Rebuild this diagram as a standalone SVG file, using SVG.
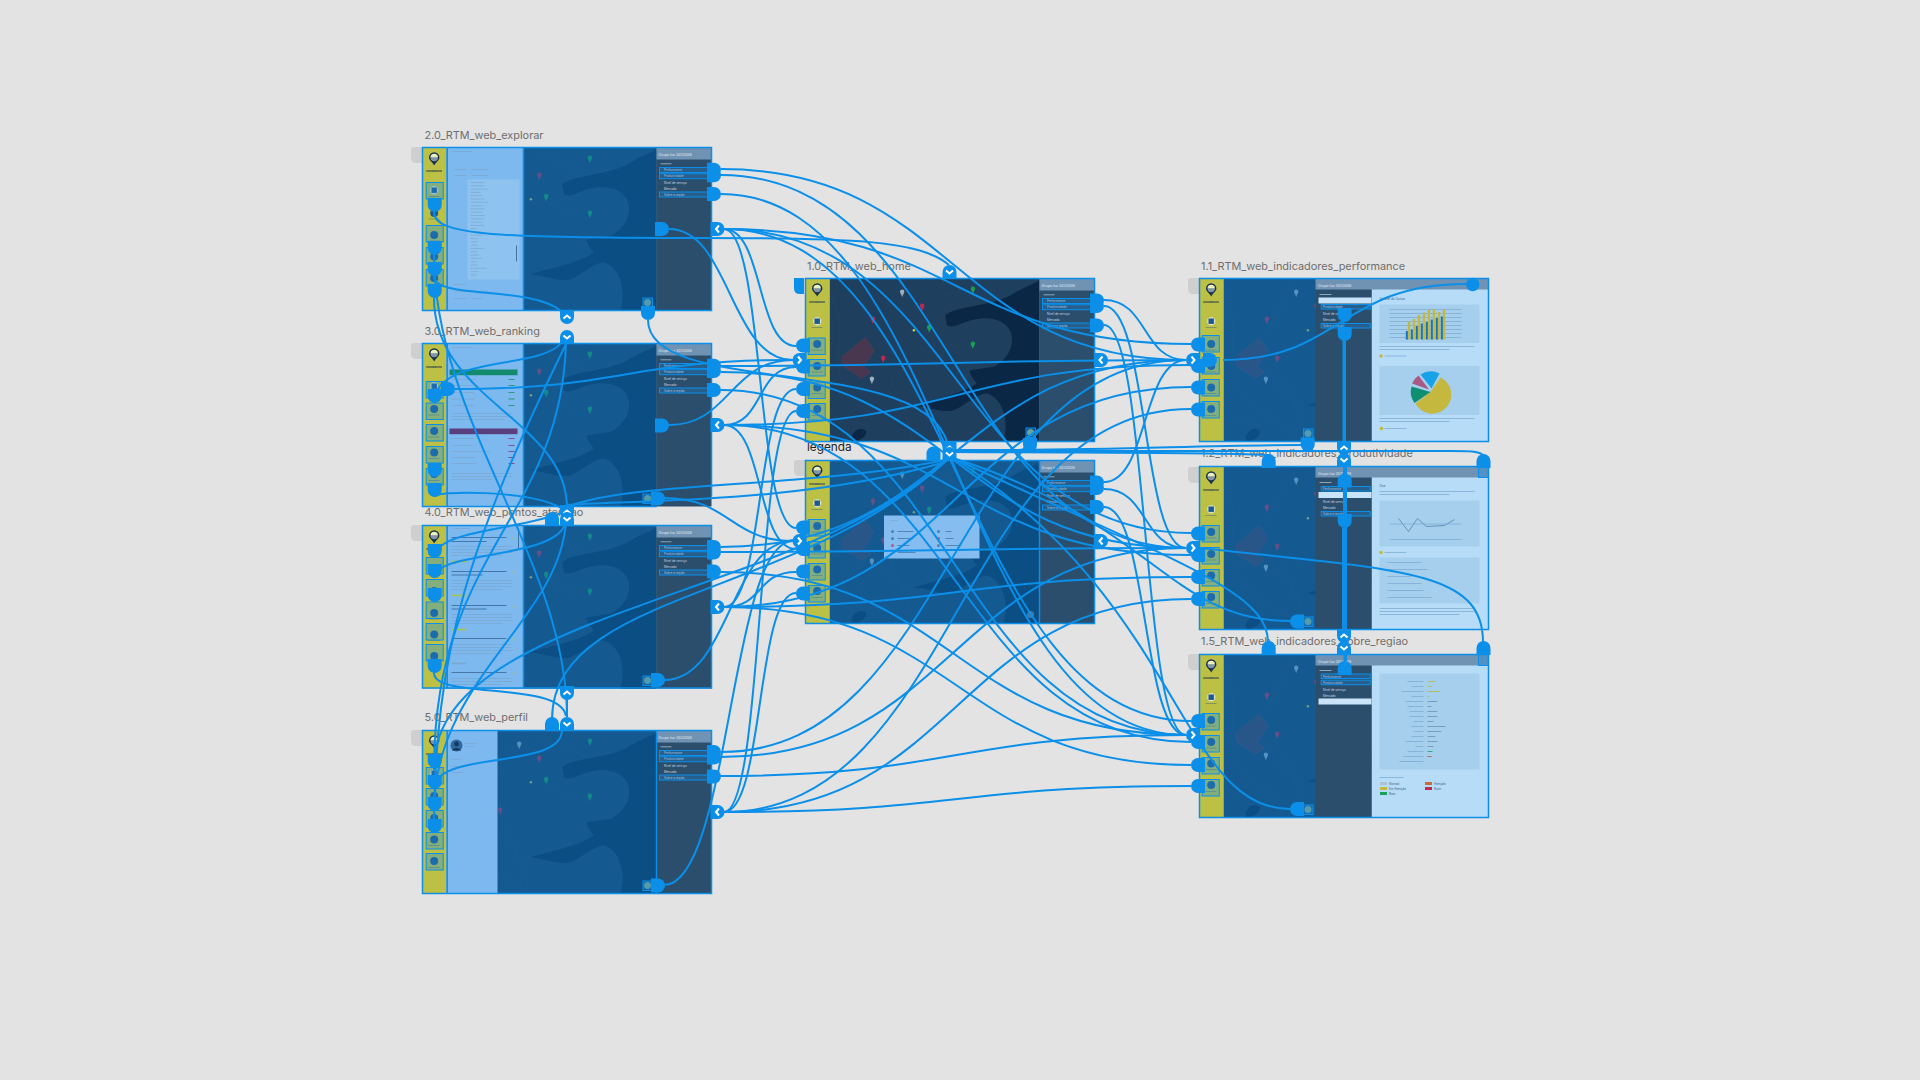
<svg xmlns="http://www.w3.org/2000/svg" width="1920" height="1080" viewBox="0 0 1920 1080">
<style>
text{font-family:"Inter","Liberation Sans",sans-serif}
.lbl{font-size:10.9px;fill:#6e6e6e}
.c path{fill:none;stroke:#0b8fe9;stroke-width:2}
.t path,.t use,.t circle{fill:#0b8fe9}
.ch{fill:none;stroke:#fff;stroke-width:2}
.hot{fill:#1e90e8;fill-opacity:.35;stroke:#0b8fe9;stroke-width:1}
.hm{fill:#1e90e8;fill-opacity:.25;stroke:#0b8fe9;stroke-width:1}
.out{fill:none;stroke:#0b8fe9;stroke-width:1.5}
.ov{fill:#0a75c4;fill-opacity:.5}
.lp{fill:#7db9ee}
.m{font-size:3px;fill:#c9d8e5}
.mt{font-size:3.6px;fill:#e2ebf3}
.d{font-size:3px;fill:#3c5f80}
.r2{fill:none;stroke:#7aa6cf;stroke-width:.7}
.road{fill:none;stroke:#fff;stroke-opacity:.13;stroke-width:.5}
.gt{fill:#cfcfcf}
.area{fill:#a6cfee}
</style>
<defs>
<path id="pin" d="M0 3C-1-.2-2.2-1-2.2-2.6A2.2 2.2 0 0 1 2.2-2.6C2.2-1 1-.2 0 3Z"/>
<path id="tR" d="M-7-7H0A7 7 0 0 1 0 7H-7Z"/>
<path id="tL" d="M7-7H0A7 7 0 0 0 0 7H7Z"/>
<path id="tT" d="M-7 7V0A7 7 0 0 1 7 0V7Z"/>
<path id="tB" d="M-7-7V0A7 7 0 0 0 7 0V-7Z"/>
<g id="map">
<rect x="24" width="210" height="163" fill="#1f3f5f"/>
<g transform="translate(-25.3 -28.3) scale(.3333)">
<path fill="#0a2745" d="M495 195C530 165 640 170 700 130C730 110 770 100 778 88V575H670C690 500 660 440 620 430C590 430 550 470 520 480C490 490 450 470 400 465C450 450 550 430 590 400C580 385 565 370 570 360L640 350C660 340 700 310 695 260C690 220 650 200 600 205C550 210 520 240 500 225Z"/>
<path fill="#0a2745" d="M215 560C220 535 250 530 258 545C255 565 235 570 225 575H215Z"/>
<path fill="#48374f" stroke="#6a4258" d="M185 320L255 262L282 302L250 350L272 365L245 385L185 345Z"/>
<path class="road" stroke-width="1.500" d="M150 130C200 200 160 330 180 380C210 480 300 500 390 570M330 380C350 450 390 500 395 575M370 90C340 140 290 210 280 262M430 100L560 160M450 250L540 290M740 180L770 215M170 500L270 530M300 395L380 480"/>
<g transform="scale(3)">
<use href="#pin" x="122" y="44" fill="#9fb0bd"/><use href="#pin" x="142" y="58" fill="#c2284a"/><use href="#pin" x="92.700" y="71" fill="#c2284a"/><use href="#pin" x="192.700" y="41" fill="#18a050"/><use href="#pin" x="149" y="79.300" fill="#18a050"/><use href="#pin" x="192.700" y="96" fill="#18a050"/><use href="#pin" x="103" y="110" fill="#c2284a"/><use href="#pin" x="91.700" y="131" fill="#9fb0bd"/><circle cx="133.700" cy="80" r="1.200" fill="#d9d040"/>
</g>
</g>
</g>
<g id="side">
<rect width="24" height="163" fill="#bcc044"/>
<path fill="#17324d" d="M11.700 18C9.500 14 6.500 12.800 6.500 10A5.200 5.200 0 0 1 16.900 10C16.900 12.800 13.900 14 11.700 18Z"/>
<path fill="#eaf0c0" d="M8 10A3.700 3.700 0 0 1 15.400 10Z"/><path fill="#dfe8f0" d="M8 10A3.700 3.700 0 0 0 15.400 10Z" opacity=".55"/>
<path stroke="#17324d" stroke-width="1.600" stroke-dasharray=".7 .4" d="M4 23.500H19.500"/>
<circle cx="11.700" cy="42.700" r="4.200" fill="#dfe8f0" opacity=".75"/>
<g fill="#1c5a8c"><rect x="9" y="40" width="5.400" height="5.400"/><circle cx="11.700" cy="65.500" r="4"/><circle cx="11.700" cy="87.500" r="4"/><circle cx="11.700" cy="109" r="4"/><circle cx="11.700" cy="130.500" r="4"/></g>
<path stroke="#6f8d6a" stroke-width=".8" d="M6 49H17M6 71.500H17M6 93.500H17M6 115H17M6 137H17"/>
</g>
<g id="panel">
<rect x="234" width="55" height="163" fill="#2a4e6c"/><rect x="234" width="55" height="12" fill="#7093b3"/>
<text class="mt" x="236" y="8.500">Grupo luz 3033008</text>
<path stroke="#a7bccd" stroke-width=".8" d="M238 16.300H249"/>
<text class="m" x="241.500" y="23.500">Performance</text><text class="m" x="241.500" y="29.800">Produtividade</text><text class="m" x="241.500" y="36">Nível de serviço</text><text class="m" x="241.500" y="42.300">Mercado</text><text class="m" x="241.500" y="48.500">Sobre a região</text>
<rect class="hm" x="237" y="20" width="49" height="5"/><rect class="hm" x="237" y="26.200" width="49" height="5"/><rect class="hm" x="237" y="44.500" width="49" height="5"/>
</g>
<g id="panelR">
<rect x="172" width="117" height="163" fill="#b7dcf8"/>
<rect x="116" width="56" height="163" fill="#2a4e6c"/><rect x="116" width="173" height="11" fill="#7093b3"/>
<text class="mt" x="118.500" y="8">Grupo luz 3033008</text>
<path stroke="#a7bccd" stroke-width=".8" d="M120 16H132"/>
<text class="m" x="123.500" y="23.500">Performance</text><text class="m" x="123.500" y="29.800">Produtividade</text><text class="m" x="123.500" y="36">Nível de serviço</text><text class="m" x="123.500" y="42.300">Mercado</text><text class="m" x="123.500" y="48.500">Sobre a região</text>
</g>
<g id="arrU"><path class="ch" d="M-3.500 1.500L0-1.500L3.500 1.500"/></g>
<g id="arrD"><path class="ch" d="M-3.500-1.500L0 1.500L3.500-1.500"/></g>
<g id="arrL"><path class="ch" d="M1.500-3.500L-1.500 0L1.500 3.500"/></g>
<g id="arrR"><path class="ch" d="M-1.500-3.500L1.500 0L-1.500 3.500"/></g>
<g id="help"><circle cx="225" cy="155" r="3.500" fill="#6fa38e"/><rect class="hot" x="220.500" y="150.500" width="9.500" height="9.500"/></g>
<g id="helpR"><circle cx="108.500" cy="155" r="3.500" fill="#6fa38e"/><rect class="hot" x="104" y="150.500" width="9.500" height="9.500"/></g>
</defs>
<rect width="1920" height="1080" fill="#e3e3e3"/>

<text class="lbl" x="424.500" y="139">2.0_RTM_web_explorar</text>
<text class="lbl" x="424.500" y="335">3.0_RTM_web_ranking</text>
<text class="lbl" x="424.500" y="516">4.0_RTM_web_pontos_atencao</text>
<text class="lbl" x="424.500" y="721">5.0_RTM_web_perfil</text>
<text class="lbl" x="807" y="270">1.0_RTM_web_home</text>
<text class="lbl" x="807" y="451" style="fill:#222;font-size:11.800px">legenda</text>
<text class="lbl" x="1201" y="270">1.1_RTM_web_indicadores_performance</text>
<text class="lbl" x="1201" y="457">1.2_RTM_web_indicadores_produtividade</text>
<text class="lbl" x="1201" y="645">1.5_RTM_web_indicadores_sobre_regiao</text>

<path class="gt" d="M423 147H414Q411 147 411 150V158Q411 163 416 163H423Z"/>
<path class="gt" d="M423 343H414Q411 343 411 346V354Q411 359 416 359H423Z"/>
<path class="gt" d="M423 525H414Q411 525 411 528V536Q411 541 416 541H423Z"/>
<path class="gt" d="M423 730H414Q411 730 411 733V741Q411 746 416 746H423Z"/>
<path class="gt" d="M806 460H797Q794 460 794 463V471Q794 476 799 476H806Z"/>
<path class="gt" d="M1200 278H1191Q1188 278 1188 281V289Q1188 294 1193 294H1200Z"/>
<path class="gt" d="M1200 467H1191Q1188 467 1188 470V478Q1188 483 1193 483H1200Z"/>
<path class="gt" d="M1200 654H1191Q1188 654 1188 657V665Q1188 670 1193 670H1200Z"/>

<g id="node-2-0" transform="translate(422.500 147.500)">
<use href="#map"/><rect class="ov" x="24" width="210" height="163"/><use href="#side"/><use href="#panel"/>
<rect class="lp" x="24" width="77" height="163"/>
<path class="r2" d="M30 4H50M32 22H44M49 22H66M32 28H44M49 28H66M32 137H44M32 144H44M49 144H66M32 151H44M49 151H60"/>
<rect x="45" y="32" width="52" height="100" fill="#8fc3ef"/>
<path class="r2" d="M48 35H62M48 38.300H62M48 41.600H66M48 44.900H58M48 48.200H60M48 51.500H62M48 54.800H66M48 58.100H60M48 61.400H62M48 64.700H60M48 68H62M48 71.300H62M48 74.600H60M48 77.900H62M48 81.200H54M48 84.500H58M48 87.800H60M48 91.100H56M48 94.400H55M48 97.700H55M48 101H62M48 104.300H55M48 107.600H56M48 110.900H60M48 114.200H54M48 117.500H55M48 120.800H64M48 124.100H56M48 127.400H54"/>
<path stroke="#3e74a6" stroke-width="1" d="M94 98V114"/>
<path class="out" d="M24.700 0V163M101 0V163"/>
<rect class="hot" x="3.700" y="35" width="17" height="16.500"/><rect class="hot" x="3.700" y="78" width="17" height="16.500"/><rect class="hot" x="3.700" y="100" width="17" height="16.500"/><rect class="hot" x="3.700" y="122" width="17" height="16.500"/>
<use href="#help"/>
<rect class="out" width="289" height="163"/>
</g>
<g id="node-3-0" transform="translate(422.500 343.500)">
<use href="#map"/><rect class="ov" x="24" width="210" height="163"/><use href="#side"/><use href="#panel"/>
<rect class="lp" x="24" width="77" height="163"/>
<rect x="27" y="26" width="68" height="5.700" fill="#128a6e"/><rect x="27" y="85" width="68" height="5.700" fill="#5a3f7e"/>
<path class="r2" d="M30 4H50M29 36H54M29 42H54M29 49H52M29 55.500H52M29 62H52M29 70H90M29 73H90M29 76H82M29 95H52M29 102H50M29 108H68M29 114H52M29 120H54M29 130H90M29 133H90M29 136H70"/>
<path stroke="#2b9a78" stroke-width="1.200" d="M86 36H92M86 42H92M86 49H92M86 55.500H92M86 62H92"/>
<path stroke="#8a4a90" stroke-width="1.200" d="M86 95H92M86 102H92M86 108H92M86 114H92M86 120H92"/>
<path class="out" d="M24.700 0V163M101 0V163"/>
<rect class="hot" x="3.700" y="38" width="17" height="16.500"/><rect class="hot" x="3.700" y="59.500" width="17" height="16.500"/><rect class="hot" x="3.700" y="81" width="17" height="16.500"/><rect class="hot" x="3.700" y="103" width="17" height="16.500"/><rect class="hot" x="3.700" y="125" width="17" height="16.500"/>
<use href="#help"/>
<path class="out" d="M234 163H0V0H289V153"/>
</g>
<g id="node-4-0" transform="translate(422.500 525.500)">
<use href="#map"/><rect class="ov" x="24" width="210" height="163"/><use href="#side"/><use href="#panel"/>
<rect class="lp" x="24" width="77" height="163"/>
<path class="r2" d="M30 3H48"/>
<path stroke="#3e6f9f" stroke-width=".9" d="M29 12H84M29 16H64M29 46H84M29 49.500H60M29 80H84M29 83.500H64M29 113H84M29 147H84"/>
<path class="r2" d="M29 21H90M29 24H90M29 27H90M29 30H80M29 55H90M29 58H90M29 61H90M29 64H80M29 89H90M29 92H90M29 95H90M29 98H80M29 119H90M29 122H90M29 125H90M29 128H80M29 153H90M29 156H90M29 159H80"/>
<path stroke="#aec446" stroke-width="1.600" d="M29 36H44M29 70H44M29 104H44"/><path stroke="#7aa6cf" stroke-width="1.600" d="M29 138H44"/>
<path stroke="#aec446" stroke-width="1.600" d="M91 12V14M91 46V48M91 80V82M91 113V115M91 147V149"/>
<path stroke="#3e74a6" stroke-width="1" d="M96 3V23"/>
<path class="out" d="M24.700 0V163M101 0V163"/>
<rect class="hot" x="3.700" y="32" width="17" height="16.500"/><rect class="hot" x="3.700" y="54" width="17" height="16.500"/><rect class="hot" x="3.700" y="76.500" width="17" height="16.500"/><rect class="hot" x="3.700" y="98" width="17" height="16.500"/><rect class="hot" x="3.700" y="119" width="17" height="16.500"/>
<use href="#help"/>
<path class="out" d="M234 162.500H0V0H289V162.500H234"/>
</g>
<g id="node-5-0" transform="translate(422.500 730.500)">
<use href="#map"/><rect class="ov" x="24" width="210" height="163"/><use href="#side"/><use href="#panel"/>
<rect class="lp" x="24" width="51" height="163"/>
<circle cx="34" cy="15" r="6" fill="#2f6a9f"/><circle cx="34" cy="13.500" r="2.400" fill="#123a60"/><path fill="#123a60" d="M29.500 20C30 16.500 38 16.500 38.500 20Z"/>
<path class="r2" d="M42 13H54M42 16H52M29 29H38M29 36H36M29 42H42"/>
<path class="out" d="M24.700 0V163"/>
<rect class="hot" x="3.700" y="37" width="17" height="16.500"/><rect class="hot" x="3.700" y="58" width="17" height="16.500"/><rect class="hot" x="3.700" y="80" width="17" height="16.500"/><rect class="hot" x="3.700" y="102" width="17" height="16.500"/><rect class="hot" x="3.700" y="123" width="17" height="16.500"/>
<use href="#help"/>
<rect class="out" width="289" height="163"/><path class="out" d="M234 0V163"/>
</g>
<g id="node-1-0" transform="translate(805.500 278.500)">
<use href="#map"/><use href="#side"/><use href="#panel"/>
<rect class="hot" x="2.700" y="59.500" width="17" height="16.500"/><rect class="hot" x="2.700" y="81" width="17" height="16.500"/><rect class="hot" x="2.700" y="103.500" width="17" height="16.500"/><rect class="hot" x="2.700" y="125" width="17" height="16.500"/>
<circle cx="225" cy="154" r="3.500" fill="#8fb07a"/><rect class="hot" x="220.500" y="149.500" width="9.500" height="9.500"/>
<rect class="out" width="289" height="163"/>
</g>
<g id="node-legenda" transform="translate(805.500 460.500)">
<use href="#map"/><rect class="ov" x="24" width="210" height="163"/><use href="#side"/><use href="#panel"/>
<circle cx="225" cy="154" r="3.500" fill="#3f7cab"/>
<rect x="78.500" y="55" width="95.500" height="43" fill="#86bdf0"/>
<path class="r2" d="M84 60H92"/>
<path stroke="#4d80b3" stroke-width=".9" d="M92 71H108M92 78H108M92 85H104M92 92H110M140 71H146M140 78H148M140 85H156"/>
<g fill="#4d80b3"><circle cx="87" cy="71" r="1.500"/><circle cx="87" cy="78" r="1.500"/><circle cx="87" cy="85" r="1.500" fill="#a35d90"/><circle cx="133" cy="71" r="1.500"/><circle cx="133" cy="78" r="1.500" fill="#a35d90"/><circle cx="133" cy="85" r="1.500"/></g>
<rect class="hot" x="2.700" y="59" width="17" height="16.500"/><rect class="hot" x="2.700" y="81" width="17" height="16.500"/><rect class="hot" x="2.700" y="103" width="17" height="16.500"/><rect class="hot" x="2.700" y="125" width="17" height="16.500"/>
<rect class="out" width="289" height="163"/><path class="out" d="M234 0V163"/>
</g>
<g id="node-1-1" transform="translate(1199.500 278.500)">
<use href="#map"/><rect class="ov" x="24" width="210" height="163"/><use href="#side"/><use href="#panelR"/>
<rect x="119" y="19" width="53" height="6" fill="#c9e3f8"/>
<text class="d" x="180" y="21">Volume do Coruja</text>
<rect class="area" x="180" y="26" width="100" height="38.500"/>
<path class="r2" d="M190 31H262M190 35H262M190 39H262M190 43H262M190 47H262M190 51H262M190 55H262M190 59H262"/>
<path stroke="#1474c8" stroke-width="2.400" d="M207.500 61V52.500M212.500 61V51M217.500 61V47.500M222.500 61V45M227.500 61V43.500M232.500 61V41M237.500 61V39.500M242.500 61V38"/>
<path stroke="#c4b83e" stroke-width="2.400" d="M209.500 61V43M214.500 61V40.500M219.500 61V36.500M224.500 61V34M229.500 61V31.500M234.500 61V30.500M239.500 61V33.500M244.500 61V31"/>
<path class="r2" d="M180 68H275M180 71H250"/><circle cx="181.500" cy="77.500" r="1.800" fill="#c4b83e"/><path class="r2" d="M185 77.500H207"/>
<rect class="area" x="180" y="87.500" width="100" height="49"/>
<path fill="#c4b83e" d="M231 113.500L241 99A19 19 0 1 1 216 125Z"/>
<path fill="#108e72" d="M231 113.500L215 124.500A19 19 0 0 1 212 108Z"/>
<path fill="#a85a85" d="M229.500 111L212.500 105A19 19 0 0 1 219 97Z"/>
<path fill="#17a2e8" d="M232 110L221 96A19 19 0 0 1 240 95Z"/>
<path class="r2" d="M180 140H275M180 143H250"/><circle cx="182" cy="150" r="1.800" fill="#c4b83e"/><path class="r2" d="M185 150H207"/>
<rect class="hm" x="121.700" y="26" width="49" height="4.500"/><rect class="hm" x="121.700" y="45" width="49" height="4.500"/>
<rect class="hot" x="2.700" y="57" width="17" height="16.500"/><rect class="hot" x="2.700" y="79" width="17" height="16.500"/><rect class="hot" x="2.700" y="101" width="17" height="16.500"/><rect class="hot" x="2.700" y="123" width="17" height="16.500"/>
<use href="#helpR"/>
<rect class="out" width="289" height="163"/>
</g>
<g id="node-1-2" transform="translate(1199.500 466.500)">
<use href="#map"/><rect class="ov" x="24" width="210" height="163"/><use href="#side"/><use href="#panelR"/>
<rect x="119" y="25.500" width="53" height="6" fill="#c9e3f8"/>
<text class="d" x="180" y="20">Gira</text>
<path class="r2" d="M180 25H275M180 28H250"/>
<rect class="area" x="180" y="34" width="100" height="46"/>
<path fill="none" stroke="#3d6a94" stroke-width=".6" d="M199 52L209 65L218 52L227 60L236 59.500L245 59L255 53"/><path class="r2" d="M190 57.500H262M190 73H262"/>
<circle cx="181.500" cy="86" r="1.800" fill="#c4b83e"/><path class="r2" d="M185 86H207"/>
<rect class="area" x="180" y="91" width="100" height="46"/>
<path class="r2" d="M188 96H222M188 103H228M188 110H212M188 117H222M188 124H224M188 131H232M180 142H275M180 145H275M180 148H260"/>
<rect class="hm" x="121.700" y="20" width="49" height="4.500"/><rect class="hm" x="121.700" y="45" width="49" height="4.500"/>
<rect fill="#1e90e8" fill-opacity=".35" stroke="#0b8fe9" x="279" y="0" width="10" height="11"/>
<rect class="hot" x="2.700" y="59" width="17" height="16.500"/><rect class="hot" x="2.700" y="81" width="17" height="16.500"/><rect class="hot" x="2.700" y="103" width="17" height="16.500"/><rect class="hot" x="2.700" y="125" width="17" height="16.500"/>
<use href="#helpR"/>
<rect class="out" width="289" height="163"/>
</g>
<g id="node-1-5" transform="translate(1199.500 654.500)">
<use href="#map"/><rect class="ov" x="24" width="210" height="163"/><use href="#side"/><use href="#panelR"/>
<rect x="119" y="44" width="53" height="6" fill="#c9e3f8"/>
<rect class="area" x="180" y="19" width="100" height="96"/>
<path class="r2" d="M208 27H224M212 32H224M202 37H224M212 42H224M206 47H224M208 52H224M210 57H224M210 62H224M214 67H224M212 72H224M214 77H224M212 82H224M206 87H224M216 92H224M208 97H224M204 102H224M200 107H224"/>
<path stroke="#6d92b0" stroke-width=".8" d="M228 47H238M228 52H232M228 57H238M228 62H238M228 67H234M228 72H246M228 77H242M228 82H236M228 87H238M228 92H234M228 102H232"/>
<path stroke="#b8b83e" stroke-width=".8" d="M228 27H236M228 32H232M228 37H240M228 42H230"/><path stroke="#1aa05a" stroke-width=".8" d="M228 97H233"/><path stroke="#c96a3a" stroke-width=".8" d="M228 102H232"/>
<path class="r2" d="M180 123H204"/>
<rect x="180.500" y="127.500" width="7" height="3" fill="#a9c3d5"/><rect x="180.500" y="132.500" width="7" height="3" fill="#c4b83e"/><rect x="180.500" y="137.500" width="7" height="3" fill="#1aa05a"/><rect x="225.500" y="127.500" width="7" height="3" fill="#c96a3a"/><rect x="225.500" y="132.500" width="7" height="3" fill="#c2284a"/>
<text class="d" x="189.500" y="130.500">Normal</text><text class="d" x="189.500" y="135.500">Em Atenção</text><text class="d" x="189.500" y="140.500">Bom</text><text class="d" x="234.500" y="130.500">Atenção</text><text class="d" x="234.500" y="135.500">Ruim</text>
<rect class="hm" x="121.700" y="19.500" width="49" height="4.500"/><rect class="hm" x="121.700" y="25.700" width="49" height="4.500"/>
<rect fill="#1e90e8" fill-opacity=".35" stroke="#0b8fe9" x="279" y="0" width="10" height="11"/>
<rect class="hot" x="2.700" y="59" width="17" height="16.500"/><rect class="hot" x="2.700" y="81" width="17" height="16.500"/><rect class="hot" x="2.700" y="103" width="17" height="16.500"/><rect class="hot" x="2.700" y="125" width="17" height="16.500"/>
<use href="#helpR"/>
<rect class="out" width="289" height="163"/>
</g>

<g id="connectors" class="c">
<path d="M721 169C953 169 954 360 1186 360"/><path d="M721 175C953 175 954 548 1186 548"/><path d="M721 194C953 194 954 735 1186 735"/>
<path d="M721 366C953 366 954 360 1186 360"/><path d="M721 372C953 372 954 548 1186 548"/><path d="M721 390C953 390 954 735 1186 735"/>
<path d="M721 547C953 547 954 360 1186 360"/><path d="M721 552C953 552 954 548 1186 548"/><path d="M721 572C953 572 954 735 1186 735"/>
<path d="M721 752C953 752 954 360 1186 360"/><path d="M721 757C953 757 954 548 1186 548"/><path d="M721 776C953 776 954 735 1186 735"/>
<path d="M1104 300C1148 300 1142 360 1186 360"/><path d="M1104 306C1148 306 1142 548 1186 548"/><path d="M1104 325C1148 325 1142 735 1186 735"/>
<path d="M1104 482C1148 482 1142 360 1186 360"/><path d="M1104 489C1148 489 1142 548 1186 548"/><path d="M1104 507C1148 507 1142 735 1186 735"/>
<path d="M796 346C756 346 764 229 724 229"/><path d="M796 367C756 367 764 425 724 425"/><path d="M796 389C756 389 764 607 724 607"/><path d="M796 411C756 411 764 812 724 812"/>
<path d="M796 528C756 528 764 229 724 229"/><path d="M796 549C756 549 764 425 724 425"/><path d="M796 572C756 572 764 607 724 607"/><path d="M796 593C756 593 764 812 724 812"/>
<path d="M1191 344C957 344 958 229 724 229"/><path d="M1191 365C957 365 958 425 724 425"/><path d="M1191 387C957 387 958 607 724 607"/><path d="M1191 409C957 409 958 812 724 812"/>
<path d="M1191 533C957 533 958 229 724 229"/><path d="M1191 555C957 555 958 425 724 425"/><path d="M1191 577C957 577 958 607 724 607"/><path d="M1191 599C957 599 958 812 724 812"/>
<path d="M1191 721C957 721 958 229 724 229"/><path d="M1191 742C957 742 958 425 724 425"/><path d="M1191 765C957 765 958 607 724 607"/><path d="M1191 786C957 786 958 812 724 812"/>
<path d="M669 229C730 229 730 360 793 360"/><path d="M669 425C730 425 730 360 793 360"/><path d="M455 389C625 389 625 360 793 360"/>
<path d="M664 498C730 498 730 541 793 541"/><path d="M664 680C730 680 730 541 793 541"/><path d="M664 885C730 885 730 541 793 541"/>
<path d="M648 320C648 400 940 350 949 452"/>
<path d="M560 510C620 480 800 490 945 460"/><path d="M567 505C620 500 800 505 945 462"/>
<path d="M552 720C552 590 800 600 949 458"/><path d="M434 768C434 610 800 600 949 458"/>
<path d="M1301 445C1200 445 1100 451 952 450"/><path d="M1268 455C1200 452 1100 453 952 452"/><path d="M1483 455C1478 451 1470 451 1450 451C1300 451 1100 451 952 451"/>
<path d="M1466 284C1340 284 1340 360 1223 360"/><path d="M1483 642C1483 570 1400 570 1200 548"/>
<path d="M1268 642C1268 590 1170 560 953 458"/><path d="M1290 621C1170 621 1150 520 953 458"/><path d="M1290 809C1180 809 1180 600 953 458"/>
<path d="M1030 445C1030 452 1000 452 955 452"/>
<path d="M1343.500 322V441M1345 341V441M1344 455V641M1345.500 474V455M1343 528V641M1344.500 661V629M1346 661V455"/>
<path d="M567 697V717"/>
<path d="M434 212C434 236 500 238 700 238C850 238 920 240 949 265"/>
<path d="M434 276C434 300 530 285 561 311"/>
<path d="M434 298C434 400 567 420 567 508"/>
<path d="M434 255C434 420 567 560 567 717"/>
<path d="M434 403C434 355 540 370 561 343"/>
<path d="M434 497C434 490 530 490 561 508"/>
<path d="M434 558C434 530 520 530 561 513"/>
<path d="M434 578C434 550 560 560 566 521"/>
<path d="M434 673C434 700 560 680 566 716"/>
<path d="M434 789C434 750 560 770 562 731"/>
<path d="M434 770C434 550 560 520 566 344"/>
<path d="M434 811C434 680 560 620 566 521"/>
<path d="M434 833C434 650 470 540 566 344"/>
</g>

<g id="hotspots" class="t">
<use href="#tB" x="434.700" y="205"/><use href="#tB" x="434.700" y="248"/><use href="#tB" x="434.700" y="269"/><use href="#tB" x="434.700" y="291"/>
<use href="#tB" x="434.700" y="396"/><use href="#tB" x="434.700" y="470"/><use href="#tB" x="434.700" y="490"/>
<use href="#tB" x="434.700" y="551"/><use href="#tB" x="434.700" y="571"/><use href="#tB" x="434.700" y="595"/><use href="#tB" x="434.700" y="666"/>
<use href="#tB" x="434.700" y="761"/><use href="#tB" x="434.700" y="782"/><use href="#tB" x="434.700" y="804"/><use href="#tB" x="434.700" y="826"/>
<use href="#tR" x="714" y="169.700"/><use href="#tR" x="714" y="175.300"/><use href="#tR" x="714" y="194"/><use href="#tR" x="662" y="229"/>
<use href="#tR" x="714" y="365.700"/><use href="#tR" x="714" y="371"/><use href="#tR" x="714" y="390"/><use href="#tR" x="662" y="425.500"/>
<use href="#tR" x="714" y="547"/><use href="#tR" x="714" y="552.500"/><use href="#tR" x="714" y="571.500"/>
<use href="#tR" x="714" y="752"/><use href="#tR" x="714" y="757.500"/><use href="#tR" x="714" y="776.500"/>
<use href="#tB" x="648" y="313"/><use href="#tR" x="658" y="498.500"/><use href="#tR" x="658" y="680"/><use href="#tR" x="658" y="885.500"/>
<use href="#tR" x="448" y="389"/>
<use href="#tT" x="552" y="519"/><use href="#tT" x="552" y="724"/>
<use href="#tL" x="803" y="345.500"/><use href="#tL" x="803" y="366.500"/><use href="#tL" x="803" y="389"/><use href="#tL" x="803" y="411"/>
<use href="#tL" x="803" y="527.500"/><use href="#tL" x="803" y="549"/><use href="#tL" x="803" y="571.500"/><use href="#tL" x="803" y="593.500"/>
<path d="M804 278V294H800Q794 294 794 288V278Z"/>
<use href="#tR" x="1097" y="300.500"/><use href="#tR" x="1097" y="306"/><use href="#tR" x="1097" y="325.500"/>
<use href="#tR" x="1097" y="482.500"/><use href="#tR" x="1097" y="488"/><use href="#tR" x="1097" y="507"/>
<use href="#tB" x="1030" y="445"/><use href="#tT" x="933.500" y="453.500"/>
<use href="#tL" x="1198" y="344.500"/><use href="#tL" x="1198" y="366"/><use href="#tL" x="1198" y="387.500"/><use href="#tL" x="1198" y="409.500"/>
<use href="#tL" x="1198" y="533.500"/><use href="#tL" x="1198" y="555"/><use href="#tL" x="1198" y="577"/><use href="#tL" x="1198" y="599"/>
<use href="#tL" x="1198" y="721"/><use href="#tL" x="1198" y="742"/><use href="#tL" x="1198" y="765"/><use href="#tL" x="1198" y="786"/>
<use href="#tR" x="1210" y="360"/>
<circle cx="1472.700" cy="284.500" r="6.700"/>
<use href="#tB" x="1344.700" y="315"/><use href="#tB" x="1344.700" y="334"/>
<use href="#tT" x="1344.700" y="480.500"/><use href="#tB" x="1344.700" y="521"/><use href="#tT" x="1344.700" y="668"/>
<use href="#tB" x="1307.700" y="444.500"/><use href="#tL" x="1297" y="621.500"/><use href="#tL" x="1297" y="809"/>
<use href="#tT" x="1268.700" y="461"/><use href="#tT" x="1268.700" y="648"/>
<use href="#tT" x="1483.500" y="461"/><use href="#tT" x="1483.500" y="648"/>
</g>
<g id="arrows" class="t">
<g transform="translate(717.500 229)"><use href="#tR"/><use href="#arrL"/></g>
<g transform="translate(717.500 425)"><use href="#tR"/><use href="#arrL"/></g>
<g transform="translate(717.500 607)"><use href="#tR"/><use href="#arrL"/></g>
<g transform="translate(717.500 812)"><use href="#tR"/><use href="#arrL"/></g>
<g transform="translate(567 317)"><use href="#tB"/><use href="#arrU"/></g>
<g transform="translate(567 337)"><use href="#tT"/><use href="#arrD"/></g>
<g transform="translate(567 512)"><use href="#tB"/><use href="#arrU"/></g>
<g transform="translate(567 519)"><use href="#tT"/><use href="#arrD"/></g>
<g transform="translate(567 693)"><use href="#tB"/><use href="#arrU"/></g>
<g transform="translate(567 724)"><use href="#tT"/><use href="#arrD"/></g>
<g transform="translate(949.500 272)"><use href="#tT"/><use href="#arrD"/></g>
<g transform="translate(949.500 448)"><use href="#tB"/><use href="#arrU"/></g>
<g transform="translate(949.500 454)"><use href="#tT"/><use href="#arrD"/></g>
<g transform="translate(799.500 360)"><use href="#tL"/><use href="#arrR"/></g>
<g transform="translate(799.500 541)"><use href="#tL"/><use href="#arrR"/></g>
<g transform="translate(1101 360)"><use href="#tR"/><use href="#arrL"/></g>
<g transform="translate(1101 541)"><use href="#tR"/><use href="#arrL"/></g>
<g transform="translate(1193 360)"><use href="#tL"/><use href="#arrR"/></g>
<g transform="translate(1193 548)"><use href="#tL"/><use href="#arrR"/></g>
<g transform="translate(1193 735)"><use href="#tL"/><use href="#arrR"/></g>
<g transform="translate(1344 448)"><use href="#tB"/><use href="#arrU"/></g>
<g transform="translate(1344 460)"><use href="#tT"/><use href="#arrD"/></g>
<g transform="translate(1344 636)"><use href="#tB"/><use href="#arrU"/></g>
<g transform="translate(1344 648)"><use href="#tT"/><use href="#arrD"/></g>
</g>
</svg>
